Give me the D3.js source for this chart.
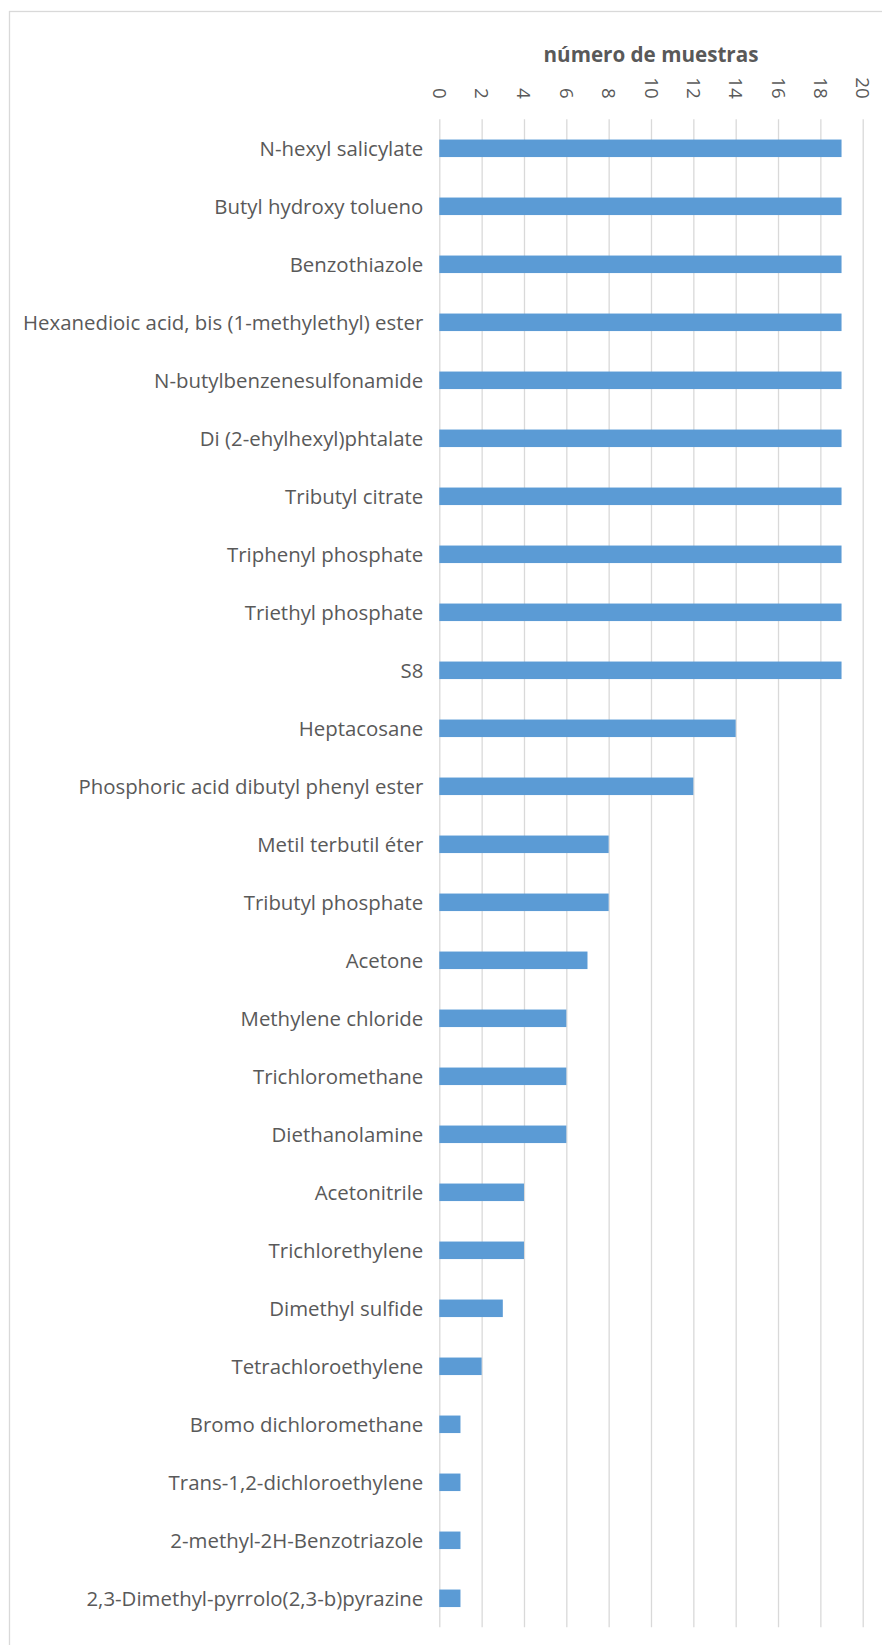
<!DOCTYPE html>
<html>
<head>
<meta charset="utf-8">
<script src="https://cdn.jsdelivr.net/npm/d3@7/dist/d3.min.js"></script>
<style>
  html, body { margin: 0; padding: 0; background: #fff; }
  svg { display: block; }
</style>
</head>
<body>
<svg id="chart" width="882" height="1645"></svg>
<script>
const categories = [
  "N-hexyl salicylate",
  "Butyl hydroxy tolueno",
  "Benzothiazole",
  "Hexanedioic acid, bis (1-methylethyl) ester",
  "N-butylbenzenesulfonamide",
  "Di (2-ehylhexyl)phtalate",
  "Tributyl citrate ",
  "Triphenyl phosphate",
  "Triethyl phosphate",
  "S8",
  "Heptacosane",
  "Phosphoric acid dibutyl phenyl ester",
  "Metil terbutil éter",
  "Tributyl phosphate",
  "Acetone",
  "Methylene chloride",
  "Trichloromethane",
  "Diethanolamine",
  "Acetonitrile",
  "Trichlorethylene",
  "Dimethyl sulfide",
  "Tetrachloroethylene",
  "Bromo dichloromethane",
  "Trans-1,2-dichloroethylene",
  "2-methyl-2H-Benzotriazole",
  "2,3-Dimethyl-pyrrolo(2,3-b)pyrazine"
];
const values = [19, 19, 19, 19, 19, 19, 19, 19, 19, 19, 14, 12, 8, 8, 7, 6, 6, 6, 4, 4, 3, 2, 1, 1, 1, 1];
const tickValues = [0, 2, 4, 6, 8, 10, 12, 14, 16, 18, 20];
const axisTitle = "número de muestras";

(function () {
const svg = d3.select("#chart");
const pLeft = 439.3, pRight = 862.7, pTop = 119.3, pBottom = 1627.3;
const textColor = "#595959";
const fontFamily = "'Open Sans', Lato, sans-serif";

// measure helper: font size so that a string spans a given width
function fitSize(str, weight, target) {
  const t = svg.append("text").attr("font-family", fontFamily)
    .attr("font-weight", weight).attr("font-size", "20px").text(str);
  const w = t.node().getComputedTextLength();
  t.remove();
  return 20 * target / w;
}
const labelSize = fitSize("Hexanedioic acid, bis (1-methylethyl) ester", "normal", 400.5);
const titleSize = fitSize(axisTitle, "bold", 215);
const tickSize = fitSize("10", "normal", 21.5);

// chart border
svg.append("rect")
  .attr("x", 9.5).attr("y", 11.5)
  .attr("width", 882).attr("height", 1645)
  .attr("fill", "none").attr("stroke", "#d9d9d9").attr("stroke-width", 1.3);

const x = d3.scaleLinear().domain([0, 20]).range([pLeft, pRight]);
const y = d3.scaleBand().domain(categories).range([pTop, pBottom]).paddingInner(0.698).paddingOuter(0.349);

// gridlines via axis
const grid = svg.append("g")
  .attr("transform", `translate(0,${pTop})`)
  .call(d3.axisBottom(x).tickValues(tickValues).tickSize(pBottom - pTop).tickFormat(""));
grid.select(".domain").remove();
grid.selectAll(".tick line").attr("stroke", "#d9d9d9").attr("stroke-width", 1.3);

// tick labels (rotated)
const tickAxis = svg.append("g")
  .attr("transform", `translate(0,${pTop})`)
  .call(d3.axisTop(x).tickValues(tickValues).tickSize(0).tickPadding(0));
tickAxis.select(".domain").remove();
tickAxis.selectAll(".tick text")
  .attr("fill", textColor)
  .attr("font-family", fontFamily)
  .attr("font-size", tickSize + "px")
  .attr("text-anchor", "end")
  .attr("dy", null)
  .attr("y", 0)
  .attr("x", 0)
  .attr("dominant-baseline", "central")
  .attr("transform", "translate(0,-20.5) rotate(90)");

// bars
svg.append("g").selectAll("rect")
  .data(values)
  .join("rect")
  .attr("x", x(0))
  .attr("y", (d, i) => y(categories[i]))
  .attr("width", d => x(d) - x(0))
  .attr("height", y.bandwidth())
  .attr("fill", "#5b9bd5");

// category labels
const yAxis = svg.append("g")
  .attr("transform", `translate(${pLeft},0)`)
  .call(d3.axisLeft(y).tickSize(0).tickPadding(16));
yAxis.select(".domain").remove();
yAxis.selectAll(".tick text")
  .attr("fill", textColor)
  .attr("font-family", fontFamily)
  .attr("font-size", labelSize + "px")
  .attr("dy", "0.36em");

// axis title
svg.append("text")
  .attr("x", (pLeft + pRight) / 2)
  .attr("y", 62)
  .attr("text-anchor", "middle")
  .attr("fill", textColor)
  .attr("font-family", fontFamily)
  .attr("font-weight", "bold")
  .attr("font-size", titleSize + "px")
  .text(axisTitle);
})();
</script>
</body>
</html>
